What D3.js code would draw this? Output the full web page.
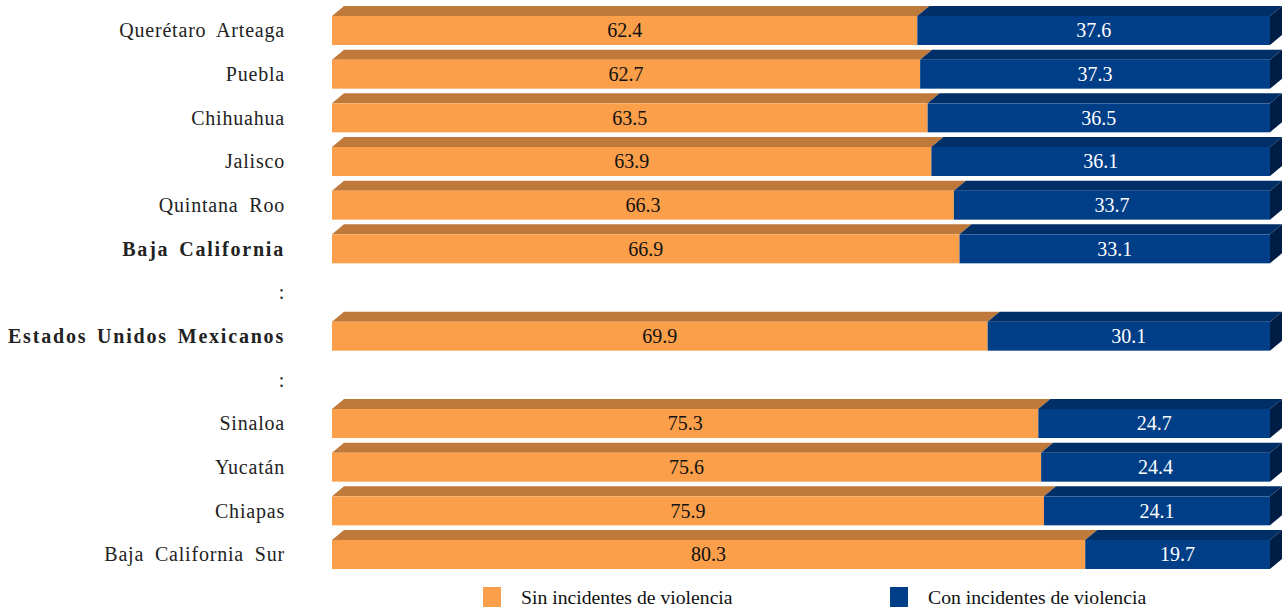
<!DOCTYPE html>
<html><head><meta charset="utf-8">
<script src="https://cdn.jsdelivr.net/npm/d3@7"></script>
<style>
html,body{margin:0;padding:0;background:#fff;}
svg{display:block;}
text{font-family:"Liberation Serif","Times New Roman",serif;}
</style></head>
<body>
<svg id="chart" width="1283" height="608"></svg>
<script>
const categories = ["Querétaro Arteaga","Puebla","Chihuahua","Jalisco","Quintana Roo","Baja California",":","Estados Unidos Mexicanos",":","Sinaloa","Yucatán","Chiapas","Baja California Sur"];
const boldCats = ["Baja California","Estados Unidos Mexicanos"];
const sinViolencia = [62.4,62.7,63.5,63.9,66.3,66.9,null,69.9,null,75.3,75.6,75.9,80.3];
const conViolencia = [37.6,37.3,36.5,36.1,33.7,33.1,null,30.1,null,24.7,24.4,24.1,19.7];
const seriesNames = ["Sin incidentes de violencia","Con incidentes de violencia"];

const colors = {
  sin:{front:"#FB9F4A", top:"#BF7A3B", side:"#A6652C"},
  con:{front:"#003E87", top:"#002E66", side:"#001E45"}
};

const svg = d3.select("#chart");
const x = d3.scaleLinear().domain([0,100]).range([332,1270]);
const y = d3.scaleBand().domain(d3.range(categories.length)).range([16, 569]).paddingInner(0.336).paddingOuter(0);
const dx = 12, dy = 10;

const rows = categories.map((c,i)=>({c,i,sin:sinViolencia[i],con:conViolencia[i]}));

svg.append("g").selectAll("text").data(rows).join("text")
  .attr("x", 285)
  .attr("y", d=>y(d.i)+y.bandwidth()/2)
  .attr("dy","0.34em")
  .attr("text-anchor","end")
  .attr("font-size", 20)
  .attr("font-weight", d=>boldCats.includes(d.c)?"bold":"normal")
  .attr("letter-spacing", d=>boldCats.includes(d.c)?"1.8px":"0.8px")
  .attr("word-spacing", d=>boldCats.includes(d.c)?"3px":"5px")
  .attr("fill","#222")
  .text(d=>d.c);

const bars = svg.append("g").selectAll("g").data(rows.filter(d=>d.sin!==null)).join("g");

function segs(d){
  return [
    {k:"sin", x0:0, x1:d.sin, v:d.sin, last:false},
    {k:"con", x0:d.sin, x1:d.sin+d.con, v:d.con, last:true}
  ];
}

bars.each(function(d){
  const g = d3.select(this);
  const top = y(d.i), h = y.bandwidth();
  segs(d).forEach(s=>{
    const a = x(s.x0), b = x(s.x1);
    g.append("path")
      .attr("d", `M${a},${top}L${a+dx},${top-dy}L${b+dx},${top-dy}L${b},${top}Z`)
      .attr("fill", colors[s.k].top);
    if(s.last){
      g.append("path")
        .attr("d", `M${b},${top}L${b+dx},${top-dy}L${b+dx},${top+h-dy}L${b},${top+h}Z`)
        .attr("fill", colors[s.k].side);
    }
    g.append("rect").attr("x",a).attr("y",top).attr("width",b-a).attr("height",h)
      .attr("fill", colors[s.k].front);
    g.append("text")
      .attr("x",(a+b)/2).attr("y",top+h/2).attr("dy","0.34em")
      .attr("text-anchor","middle").attr("font-size",20)
      .attr("fill", s.k==="sin"?"#111":"#fff")
      .text(d3.format(".1f")(s.v));
  });
});

const legend = svg.append("g");
const legItems = [{n:seriesNames[0],c:colors.sin.front,x:483},{n:seriesNames[1],c:colors.con.front,x:890}];
legItems.forEach(l=>{
  legend.append("rect").attr("x",l.x).attr("y",587).attr("width",18).attr("height",20).attr("fill",l.c);
  legend.append("text").attr("x",l.x+38).attr("y",604).attr("font-size",19.7).attr("fill","#111").text(l.n);
});
</script>
</body></html>
